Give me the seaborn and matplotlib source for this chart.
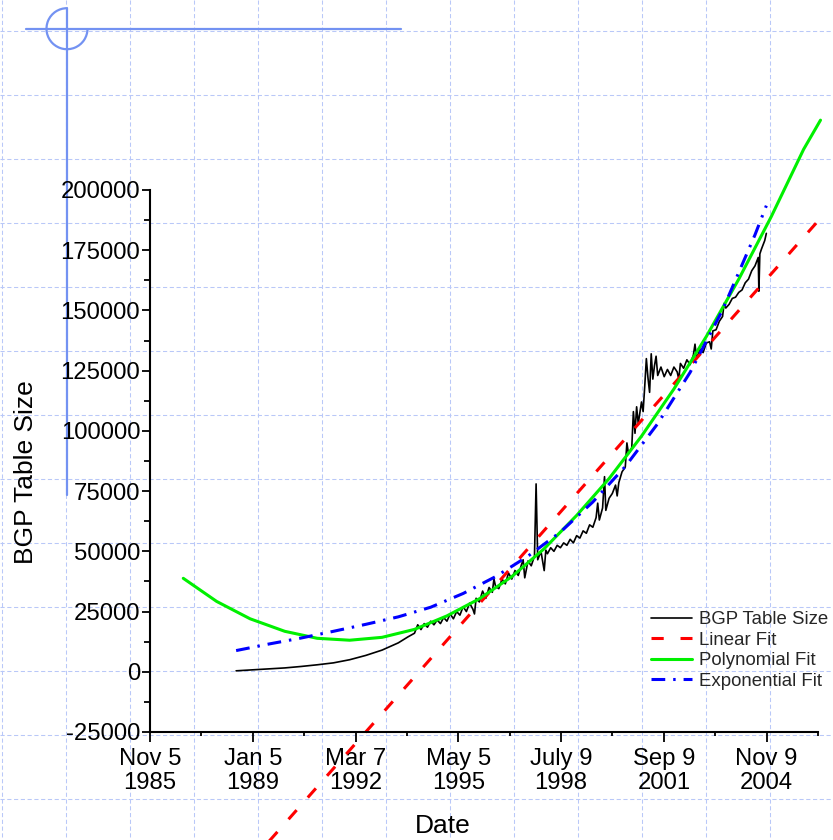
import numpy as np
import pandas as pd
import matplotlib
matplotlib.use("Agg")
import matplotlib.pyplot as plt
import seaborn as sns
from matplotlib.patches import Arc

# ---------------- data (x in decimal years, y in thousands of routes) -------------
BGP_YEARS = [1988.5, 1989.0, 1989.5, 1990.0, 1990.5, 1991.0, 1991.5, 1992.0, 1992.5,
             1993.0, 1993.5, 1993.8, 1994.0,
             1994.1, 1994.2, 1994.3, 1994.4, 1994.5, 1994.6, 1994.7, 1994.8, 1994.9,
             1995.0, 1995.1, 1995.2, 1995.3, 1995.4, 1995.5, 1995.6, 1995.7, 1995.8, 1995.85,
             1995.9, 1996.0, 1996.1, 1996.2, 1996.3, 1996.4, 1996.45, 1996.5, 1996.6, 1996.7,
             1996.8, 1996.9, 1997.0, 1997.1, 1997.2, 1997.3, 1997.35, 1997.4, 1997.5, 1997.6,
             1997.7, 1997.75, 1997.8, 1997.9, 1998.0, 1998.05, 1998.1, 1998.2, 1998.3, 1998.4,
             1998.5, 1998.6, 1998.7, 1998.8, 1998.9, 1999.0, 1999.1, 1999.2, 1999.3, 1999.4,
             1999.5, 1999.6, 1999.65, 1999.7, 1999.8, 1999.86, 1999.9, 2000.0, 2000.1, 2000.2,
             2000.25, 2000.3, 2000.4, 2000.5, 2000.55, 2000.6, 2000.7, 2000.75, 2000.8, 2000.85,
             2000.9, 2001.0, 2001.05, 2001.1, 2001.15, 2001.2, 2001.25, 2001.3, 2001.35, 2001.4,
             2001.45, 2001.5, 2001.6, 2001.7, 2001.8, 2001.9, 2002.0, 2002.1, 2002.15, 2002.2,
             2002.3, 2002.4, 2002.5, 2002.6, 2002.65, 2002.7, 2002.8, 2002.9, 2003.0, 2003.1,
             2003.15, 2003.2, 2003.3, 2003.4, 2003.5, 2003.55, 2003.6, 2003.7, 2003.8, 2003.9,
             2004.0, 2004.1, 2004.2, 2004.3, 2004.4, 2004.5, 2004.6, 2004.62, 2004.65, 2004.7,
             2004.8, 2004.85]
BGP_K = [0.4, 0.8, 1.2, 1.6, 2.2, 2.9, 3.7, 5.0, 6.8,
         9.0, 12.0, 14.5, 16.0,
         19.5, 17.5, 20.0, 18.5, 21.0, 19.5, 21.5, 20.0, 22.5,
         21.0, 24.0, 22.0, 25.0, 23.5, 27.0, 25.0, 28.5, 26.0, 24.0,
         30.5, 29.0, 33.5, 30.5, 35.0, 33.0, 38.5, 35.5, 34.5, 38.5,
         36.5, 41.0, 38.5, 42.0, 40.0, 44.5, 46.5, 39.0, 46.0, 44.0,
         48.0, 78.0, 46.5, 50.0, 42.0, 50.5, 49.0, 51.5, 50.0, 52.5,
         51.5, 53.5, 52.5, 55.0, 53.5, 56.5, 55.5, 58.5, 57.5, 61.0,
         60.0, 64.0, 70.0, 63.0, 68.0, 81.0, 67.0, 72.0, 74.0, 77.5,
         73.0, 78.5, 83.0, 85.0, 95.0, 90.5, 93.0, 108.0, 99.0, 110.0,
         103.0, 112.0, 108.0, 118.5, 130.0, 122.0, 116.0, 132.0, 121.5, 127.0,
         131.0, 123.0, 126.5, 122.5, 125.5, 123.0, 126.5, 124.5, 121.5, 128.0,
         126.0, 129.5, 127.5, 131.5, 136.0, 130.0, 134.0, 132.5, 136.5, 137.0,
         134.0, 141.5, 142.0, 145.5, 147.5, 153.0, 151.0, 152.5, 155.0, 155.5,
         157.5, 158.5, 161.5, 163.0, 166.5, 168.5, 172.0, 158.0, 173.5, 175.5,
         179.0, 182.0]

LIN_YEARS = [1986.87, 2006.52]
LIN_K = [-110.6, 188.3]

POLY_YEARS = [1986.87, 1987.9, 1988.93, 1990.0, 1991.0, 1992.0, 1993.0, 1994.0, 1995.0,
              1996.0, 1997.0, 1998.0, 1999.0, 2000.0, 2001.0, 2002.0, 2003.0, 2004.0,
              2005.0, 2006.0, 2006.52]
POLY_K = [38.8, 29.2, 22.0, 16.8, 13.9, 13.1, 14.3, 17.6, 23.2,
          30.3, 39.5, 51.1, 64.9, 80.2, 97.8, 117.4, 139.2, 163.0,
          188.9, 216.9, 229.0]

EXP_YEARS = [1988.5, 1989.5, 1990.5, 1991.5, 1992.5, 1993.5, 1994.5, 1995.5, 1996.5,
             1997.5, 1998.5, 1999.5, 2000.5, 2001.5, 2002.5, 2003.5, 2004.5, 2004.85]
EXP_K = [8.8, 11.5, 14.0, 16.8, 19.7, 22.8, 26.8, 32.5, 39.5,
         48.0, 58.0, 70.5, 85.2, 103.0, 124.3, 150.2, 181.4, 193.5]

XTICK_YEARS = [1985.844, 1989.013, 1992.182, 1995.351, 1998.520, 2001.689, 2004.858]
XTICK_LABELS = ["Nov 5\n1985", "Jan 5\n1989", "Mar 7\n1992", "May 5\n1995",
                "July 9\n1998", "Sep 9\n2001", "Nov 9\n2004"]
XMINOR_YEARS = [1987.429, 1990.598, 1993.767, 1996.936, 2000.105, 2003.274, 2006.443]
YTICKS = [-25000, 0, 25000, 50000, 75000, 100000, 125000, 150000, 175000, 200000]
YTICK_LABELS = ["-25000", "0", "25000", "50000", "75000", "100000", "125000",
                "150000", "175000", "200000"]
YMINOR = [-12500, 12500, 37500, 62500, 87500, 112500, 137500, 162500, 187500]

SERIES_NAMES = ["BGP Table Size", "Linear Fit", "Polynomial Fit", "Exponential Fit"]

# ---------------- style -------------
sns.set_theme(style="white")
plt.rcParams["font.family"] = ["Liberation Sans", "DejaVu Sans"]
plt.rcParams["axes.unicode_minus"] = False

W, H = 833, 840
fig = plt.figure(figsize=(W / 100, H / 100), dpi=100)
fig.patch.set_facecolor("white")

# graph-paper background covering the whole figure (pixel coordinates)
bg = fig.add_axes([0, 0, 1, 1], zorder=0)
bg.set_facecolor("white")
paper = "#b9c8f8"
bg.vlines(np.arange(2.5, W + 5, 64.0), 0, H, colors=paper,
          linestyles=[(0, (4, 2.5))], linewidth=0.75)
bg.hlines(np.arange(31.0 - 64.0, H + 5, 64.0), 0, W, colors=paper,
          linestyles=[(0, (4, 2.5))], linewidth=0.75)
cross = "#7392f2"
bg.plot([26, 401], [28.7, 28.7], color=cross, lw=1.6)
bg.plot([67, 67], [7.8, 495], color=cross, lw=1.6)
bg.add_patch(Arc((67, 28.7), 41, 41, theta1=0, theta2=270, color=cross, lw=1.6))
bg.set_xlim(0, W)
bg.set_ylim(H, 0)
bg.set_xticks([])
bg.set_yticks([])
bg.grid(False)
for s in bg.spines.values():
    s.set_visible(False)

# main axes
ax = fig.add_axes([150 / W, 1 - 732 / H, 668 / W, 542 / H], zorder=1)
ax.set_facecolor("none")

def frame(xs, ks):
    return pd.DataFrame({"year": xs, "size": np.asarray(ks) * 1000.0})

sns.lineplot(data=frame(BGP_YEARS, BGP_K), x="year", y="size", ax=ax, color="black",
             lw=1.2, label=SERIES_NAMES[0], estimator=None, sort=True)
sns.lineplot(data=frame(LIN_YEARS, LIN_K), x="year", y="size", ax=ax, color="#ff0000",
             lw=2.2, label=SERIES_NAMES[1], estimator=None, sort=True)
sns.lineplot(data=frame(POLY_YEARS, POLY_K), x="year", y="size", ax=ax, color="#00f000",
             lw=2.2, label=SERIES_NAMES[2], estimator=None, sort=True)
sns.lineplot(data=frame(EXP_YEARS, EXP_K), x="year", y="size", ax=ax, color="#0000ff",
             lw=2.2, label=SERIES_NAMES[3], estimator=None, sort=True)

lines = ax.get_lines()
lines[1].set_linestyle((0, (4, 5.5)))
lines[3].set_linestyle((0, (4.5, 2.6, 0.8, 2.6)))
for ln in lines:
    ln.set_clip_on(False)

ax.set_xticks(XTICK_YEARS, XTICK_LABELS)
ax.set_xticks(XMINOR_YEARS, minor=True)
ax.set_yticks(YTICKS, YTICK_LABELS)
ax.set_yticks(YMINOR, minor=True)
ax.set_xlim(XTICK_YEARS[0], XMINOR_YEARS[-1])
ax.set_ylim(-25000, 200000)
ax.grid(False)

ax.tick_params(which="both", bottom=True, left=True, direction="out", color="black",
               width=1.3)
ax.tick_params(axis="x", which="major", length=7.2, pad=4.5, labelsize=17.2,
               labelcolor="black")
ax.tick_params(axis="x", which="minor", length=3.2)
ax.tick_params(axis="y", which="major", length=5.8, pad=1.3, labelsize=17.2,
               labelcolor="black")
ax.tick_params(axis="y", which="minor", length=4.3)
for lbl in ax.get_xticklabels():
    lbl.set_linespacing(1.1)

for side in ["top", "right"]:
    ax.spines[side].set_visible(False)
for side in ["left", "bottom"]:
    ax.spines[side].set_color("black")
    ax.spines[side].set_linewidth(1.5)

ax.set_xlabel("Date", fontsize=19, color="black", va="center")
ax.xaxis.set_label_coords(0.4386, -0.1734)
ax.set_ylabel("BGP Table Size", fontsize=19, color="black", va="center")
ax.yaxis.set_label_coords(-0.1856, 0.4797)

ax.legend(loc="upper left", bbox_to_anchor=(651 / W, 1 - 611 / H),
          bbox_transform=fig.transFigure, frameon=False, fontsize=13.4,
          handlelength=2.2, handletextpad=0.38, labelspacing=0.19,
          borderpad=0, borderaxespad=0)

fig.savefig("out.png", dpi=100)
